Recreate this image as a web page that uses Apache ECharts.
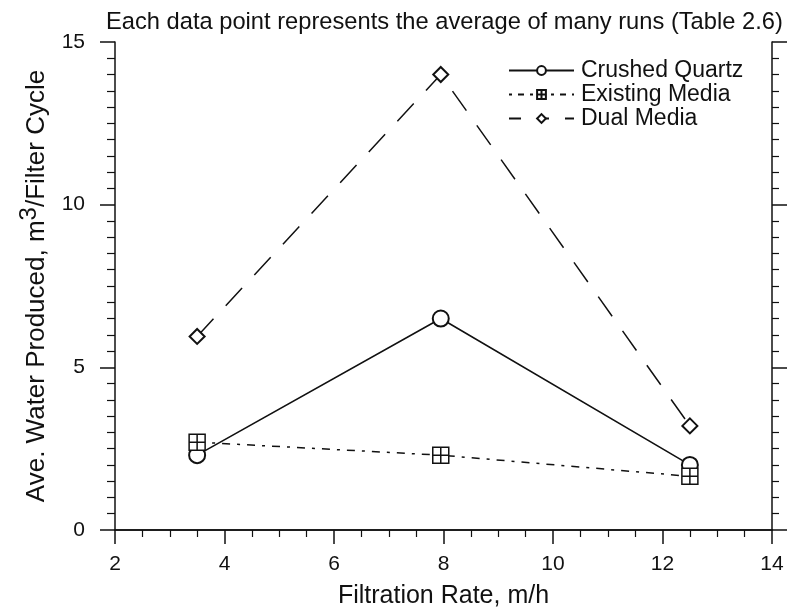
<!DOCTYPE html>
<html>
<head>
<meta charset="utf-8">
<script src="https://cdn.jsdelivr.net/npm/echarts@6/dist/echarts.min.js"></script>
<style>
  html, body { margin: 0; padding: 0; background: #fff; }
  #main { width: 790px; height: 616px; }
</style>
</head>
<body>
<div id="main"></div>
<script>
// data
var filtrationRate = [3.5, 7.95, 12.5];
var crushedQuartz = [2.3, 6.5, 2.0];
var existingMedia = [2.7, 2.3, 1.65];
var dualMedia = [5.95, 14.0, 3.2];
var seriesNames = ['Crushed Quartz', 'Existing Media', 'Dual Media'];

function pairs(ys) {
  return ys.map(function (y, i) { return [filtrationRate[i], y]; });
}

var font = 'Liberation Sans, Arial, Helvetica, sans-serif';
var ink = '#111';

var chart = echarts.init(document.getElementById('main'));

chart.setOption({
  backgroundColor: '#fff',
  animation: false,
  textStyle: { fontFamily: font, color: ink },
  title: {
    text: 'Each data point represents the average of many runs (Table 2.6)',
    left: 101,
    top: 5,
    textStyle: { fontFamily: font, fontSize: 23.7, fontWeight: 'normal', color: ink }
  },
  grid: { left: 115, right: 18, top: 42, bottom: 86 },
  legend: {
    orient: 'vertical',
    left: 503,
    top: 54,
    itemWidth: 65,
    itemHeight: 11,
    itemGap: 1,
    data: [
      { name: seriesNames[0] },
      { name: seriesNames[1], lineStyle: { type: [3, 6, 6, 6] } },
      { name: seriesNames[2], lineStyle: { type: [12, 16] } }
    ],
    textStyle: { fontFamily: font, fontSize: 23, color: ink, padding: [0, 0, 0, 2] }
  },
  xAxis: [{
    type: 'value',
    min: 2, max: 14, interval: 2,
    name: 'Filtration Rate, m/h',
    nameLocation: 'middle',
    nameGap: 54,
    nameTextStyle: { fontFamily: font, fontSize: 25, color: ink },
    axisLine: { lineStyle: { color: ink, width: 1.5 } },
    axisTick: { inside: false, length: 14, lineStyle: { color: ink, width: 1.5 } },
    minorTick: { show: true, splitNumber: 4, length: 7, lineStyle: { color: ink, width: 1.2 } },
    axisLabel: { fontFamily: font, fontSize: 21, color: ink, margin: 24 },
    splitLine: { show: false }
  }, {
    type: 'value',
    position: 'top',
    min: 2, max: 14,
    axisLine: { show: true, lineStyle: { color: ink, width: 1.5 } },
    axisTick: { show: false },
    axisLabel: { show: false },
    splitLine: { show: false }
  }],
  yAxis: [{
    type: 'value',
    min: 0, max: 15, interval: 5,
    name: 'Ave. Water Produced, m{sup|3}/Filter Cycle',
    nameLocation: 'middle',
    nameGap: 58,
    nameTextStyle: {
      fontFamily: font, fontSize: 26, color: ink,
      rich: { sup: { fontFamily: font, fontSize: 24, color: ink, padding: [0, 0, 16, 0] } }
    },
    axisLine: { lineStyle: { color: ink, width: 1.5 } },
    axisTick: { inside: false, length: 15, lineStyle: { color: ink, width: 1.5 } },
    minorTick: { show: true, splitNumber: 10, length: 8, lineStyle: { color: ink, width: 1.2 } },
    axisLabel: { fontFamily: font, fontSize: 21, color: ink, margin: 30 },
    splitLine: { show: false }
  }, {
    type: 'value',
    position: 'right',
    min: 0, max: 15, interval: 5,
    axisLine: { show: true, lineStyle: { color: ink, width: 1.5 } },
    axisTick: { show: true, inside: false, length: 15, lineStyle: { color: ink, width: 1.5 } },
    minorTick: { show: true, splitNumber: 10, length: 7, lineStyle: { color: ink, width: 1.2 } },
    axisLabel: { show: false },
    splitLine: { show: false }
  }],
  series: [{
    name: seriesNames[0],
    type: 'line',
    data: pairs(crushedQuartz),
    symbol: 'emptyCircle',
    symbolSize: 16,
    itemStyle: { color: ink, borderWidth: 1.5 },
    lineStyle: { color: ink, width: 1.6, type: 'solid' }
  }, {
    name: seriesNames[1],
    type: 'line',
    data: pairs(existingMedia),
    symbol: 'path://M0,0L16,0L16,16L0,16ZM8,0L8,16M0,8L16,8',
    symbolSize: 16,
    itemStyle: { color: '#fff', borderColor: ink, borderWidth: 1.5 },
    lineStyle: { color: ink, width: 1.5, type: [8, 7, 3, 7] }
  }, {
    name: seriesNames[2],
    type: 'line',
    data: pairs(dualMedia),
    symbol: 'emptyDiamond',
    symbolSize: 15,
    itemStyle: { color: ink, borderWidth: 1.5 },
    lineStyle: { color: ink, width: 1.5, type: [24, 18] }
  }]
});
</script>
</body>
</html>
